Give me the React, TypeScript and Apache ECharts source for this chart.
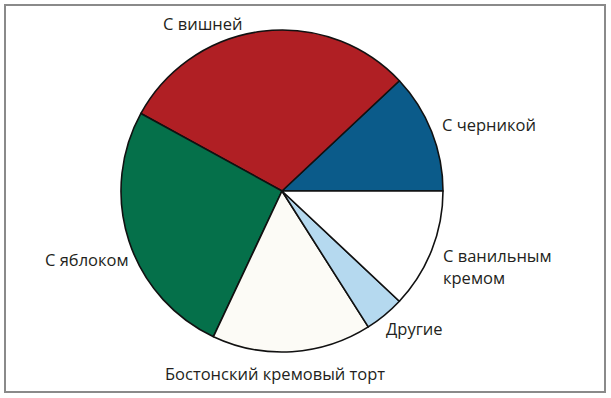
import React, { useEffect, useRef } from "react";
import * as echarts from "echarts";

const categories = [
  "С черникой",
  "С вишней",
  "С яблоком",
  "Бостонский кремовый торт",
  "Другие",
  "С ванильным\nкремом",
];
const values = [12, 30, 26, 16, 4, 12];
const colors = ["#0b5b8a", "#b01f24", "#05704a", "#fcfbf6", "#b5d9ef", "#ffffff"];
const labelPos: [number, number][] = [
  [442, 124],
  [163, 23],
  [45, 259],
  [165, 373],
  [386, 328],
  [443, 266],
];

export default function App() {
  const ref = useRef<HTMLDivElement>(null);
  useEffect(() => {
    if (!ref.current) return;
    const chart = echarts.init(ref.current, undefined, { renderer: "svg" });
    chart.setOption({
      animation: false,
      backgroundColor: "#ffffff",
      graphic: [
        {
          type: "rect",
          shape: { x: 5, y: 5, width: 600, height: 387 },
          style: { fill: "none", stroke: "#8a8a8a", lineWidth: 2 },
          silent: true,
        },
      ],
      series: [
        {
          type: "pie",
          center: [282, 191],
          radius: 161,
          startAngle: 0,
          clockwise: false,
          avoidLabelOverlap: false,
          data: categories.map((name, i) => ({
            name,
            value: values[i],
            itemStyle: { color: colors[i] },
          })),
          itemStyle: { borderColor: "#111", borderWidth: 1.6 },
          label: {
            show: true,
            position: "outside",
            formatter: "{b}",
            color: "#231f20",
            fontFamily: "Open Sans",
            fontSize: 16.5,
            lineHeight: 22,
          },
          labelLine: { show: false },
          labelLayout: (params: any) => {
            const p = labelPos[params.dataIndex];
            return { x: p[0], y: p[1], align: "left", verticalAlign: "middle" };
          },
          emphasis: { disabled: true },
        },
      ],
    });
    return () => chart.dispose();
  }, []);
  return (
    <div
      ref={ref}
      style={{ position: "absolute", left: 0, top: 0, width: 611, height: 398 }}
    />
  );
}
